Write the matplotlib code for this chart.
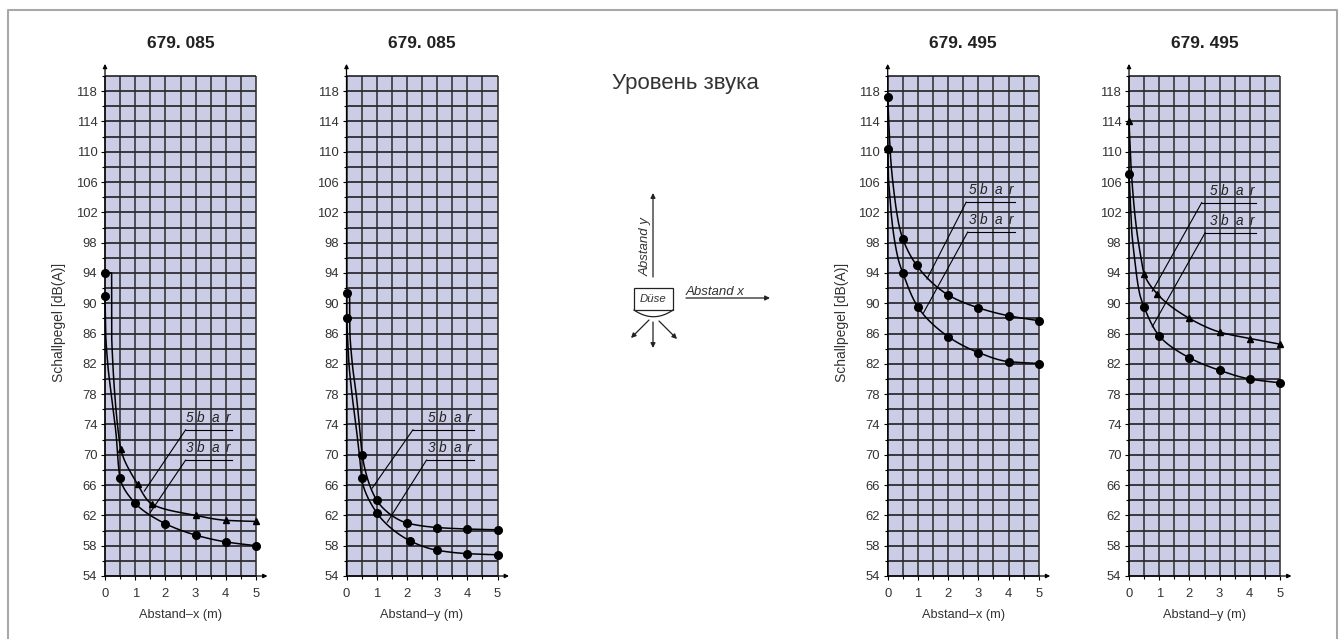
import numpy as np
import matplotlib.pyplot as plt
from matplotlib.patches import Rectangle

plt.rcParams['font.family'] = ['Liberation Sans', 'DejaVu Sans']

# ---- data ----
# panel 1: 679. 085, Abstand-x
p1_5bar_x = [0, 0.52, 1.08, 1.55, 3, 4, 5]
p1_5bar_y = [94.0, 70.8, 66.1, 63.5, 62.0, 61.35, 61.2]
p1_5bar_tx = [0.22, 0.22, 0.26, 0.33, 0.44]          # traced steep part of the curve
p1_5bar_ty = [94.0, 86.3, 82.0, 77.6, 73.0]
p1_3bar_x = [0, 0.5, 1, 2, 3, 4, 5]
p1_3bar_y = [90.9, 66.9, 63.6, 60.9, 59.4, 58.5, 58.0]
p1_3bar_tx = [0.02, 0.09, 0.22, 0.36]
p1_3bar_ty = [86.3, 82.0, 77.6, 73.0]

# panel 2: 679. 085, Abstand-y
p2_5bar_x = [0, 0.52, 1, 2, 3, 4, 5]
p2_5bar_y = [91.3, 70.0, 64.0, 61.0, 60.4, 60.2, 60.1]
p2_5bar_tx = [0.1, 0.11, 0.19, 0.33, 0.44]
p2_5bar_ty = [91.2, 86.5, 82.1, 77.7, 73.3]
p2_3bar_x = [0, 0.5, 1, 2.1, 3, 4, 5]
p2_3bar_y = [88.1, 66.9, 62.35, 58.65, 57.4, 56.95, 56.8]
p2_3bar_tx = [0.02, 0.08, 0.19, 0.33, 0.46]
p2_3bar_ty = [86.5, 82.1, 77.7, 73.3, 68.7]

# panel 3: 679. 495, Abstand-x
p3_5bar_x = [0, 0.5, 0.96, 2, 3, 4, 5]
p3_5bar_y = [117.2, 98.5, 95.0, 91.1, 89.4, 88.35, 87.7]
p3_5bar_tx = [0.04, 0.1, 0.21, 0.38]
p3_5bar_ty = [113.4, 109.0, 104.6, 100.2]
p3_3bar_x = [0, 0.5, 1, 2, 3, 4, 5]
p3_3bar_y = [110.4, 94.0, 89.5, 85.6, 83.5, 82.3, 82.05]
p3_3bar_tx = [0.02, 0.06, 0.16, 0.35]
p3_3bar_ty = [107.0, 104.6, 100.2, 95.8]

# panel 4: 679. 495, Abstand-y
p4_5bar_x = [0, 0.5, 0.93, 2, 3, 4, 5]
p4_5bar_y = [114.0, 93.9, 91.25, 88.0, 86.2, 85.35, 84.6]
p4_5bar_tx = [0.055, 0.13, 0.24, 0.41]
p4_5bar_ty = [108.9, 104.5, 100.1, 95.7]
p4_3bar_x = [0, 0.5, 1, 2, 3, 4, 5]
p4_3bar_y = [107.1, 89.5, 85.7, 82.8, 81.15, 80.0, 79.5]
p4_3bar_tx = [0.03, 0.08, 0.19, 0.35]
p4_3bar_ty = [104.5, 100.1, 95.7, 91.3]

# label leader lines: (line y, line x start, target x, target y)
p1_lead = [(73.3, 2.67, 1.3, 65.2), (69.3, 2.67, 1.5, 62.4)]
p2_lead = [(73.3, 2.2, 0.85, 65.6), (69.3, 2.65, 1.35, 61.1)]
p3_lead = [(103.35, 2.6, 1.3, 93.2), (99.4, 2.65, 1.18, 88.7)]
p4_lead = [(103.3, 2.41, 0.77, 91.6), (99.3, 2.52, 0.77, 86.9)]

titles = ['679. 085', '679. 085', '679. 495', '679. 495']
xlabels = ['Abstand\u2013x (m)', 'Abstand\u2013y (m)', 'Abstand\u2013x (m)', 'Abstand\u2013y (m)']
bar_letters = [['5', 'b', 'a', 'r'], ['3', 'b', 'a', 'r']]
letter_x = [2.8, 3.17, 3.66, 4.07]
y_ticks = list(range(54, 119, 4))
x_ticks = [0, 1, 2, 3, 4, 5]


def pchip(t, v, tn):
    t = np.asarray(t, float)
    v = np.asarray(v, float)
    h = np.diff(t)
    d = np.diff(v) / h
    m = np.zeros(len(t))
    m[0], m[-1] = d[0], d[-1]
    for k in range(1, len(t) - 1):
        if d[k - 1] * d[k] > 0:
            w1 = 2 * h[k] + h[k - 1]
            w2 = h[k] + 2 * h[k - 1]
            m[k] = (w1 + w2) / (w1 / d[k - 1] + w2 / d[k])
    i = np.clip(np.searchsorted(t, tn) - 1, 0, len(t) - 2)
    s = (tn - t[i]) / h[i]
    h00 = 2 * s**3 - 3 * s**2 + 1
    h10 = s**3 - 2 * s**2 + s
    h01 = -2 * s**3 + 3 * s**2
    h11 = s**3 - s**2
    return h00 * v[i] + h10 * h[i] * m[i] + h01 * v[i + 1] + h11 * h[i] * m[i + 1]


def smooth(xs, ys):
    xs = np.asarray(xs, float)
    ys = np.asarray(ys, float)
    seg = np.hypot(np.diff(xs) * 30.2, np.diff(ys) * 7.57)
    t = np.concatenate([[0], np.cumsum(seg)])
    tn = np.linspace(0, t[-1], 600)
    return pchip(t, xs, tn), pchip(t, ys, tn)


W, H = 1341, 639
fig = plt.figure(figsize=(W / 100, H / 100), dpi=100)

bg = fig.add_axes([0, 0, 1, 1], zorder=-5)
bg.set_xlim(0, W)
bg.set_ylim(H, 0)
bg.axis('off')

panel_left = [105, 346.5, 887.7, 1129]
top_px, bottom_px, width_px = 76, 576, 151

curves = [
    [(p1_5bar_x, p1_5bar_y, p1_5bar_tx, p1_5bar_ty, ['o'] + ['^'] * 6),
     (p1_3bar_x, p1_3bar_y, p1_3bar_tx, p1_3bar_ty, ['o'] * 7)],
    [(p2_5bar_x, p2_5bar_y, p2_5bar_tx, p2_5bar_ty, ['o'] * 7),
     (p2_3bar_x, p2_3bar_y, p2_3bar_tx, p2_3bar_ty, ['o'] * 7)],
    [(p3_5bar_x, p3_5bar_y, p3_5bar_tx, p3_5bar_ty, ['o'] * 7),
     (p3_3bar_x, p3_3bar_y, p3_3bar_tx, p3_3bar_ty, ['o'] * 7)],
    [(p4_5bar_x, p4_5bar_y, p4_5bar_tx, p4_5bar_ty, ['^'] * 7),
     (p4_3bar_x, p4_3bar_y, p4_3bar_tx, p4_3bar_ty, ['o'] * 7)],
]
leads = [p1_lead, p2_lead, p3_lead, p4_lead]

for n in range(4):
    ax = fig.add_axes([panel_left[n] / W, 1 - bottom_px / H,
                       width_px / W, (bottom_px - top_px) / H])
    ax.set_xlim(0, 5)
    ax.set_ylim(54, 120)
    ax.set_facecolor('#cbcce6')
    for sp in ax.spines.values():
        sp.set_visible(False)

    # grid
    ax.hlines(np.arange(54, 121, 2), 0, 5, color='#111111', lw=1.1, zorder=1, clip_on=False)
    ax.vlines(np.arange(0, 5.01, 0.5), 54, 120, color='#2a2a2a', lw=1.1, zorder=1, clip_on=False)

    # axes arrows
    arr = dict(arrowstyle='-|>', lw=0.9, color='black', mutation_scale=6, shrinkA=0, shrinkB=0)
    ax.annotate('', xy=(0, 121.6), xytext=(0, 54), arrowprops=arr, annotation_clip=False, zorder=3)
    ax.annotate('', xy=(5.38, 54), xytext=(0, 54), arrowprops=arr, annotation_clip=False, zorder=3)

    ax.set_yticks(y_ticks)
    ax.set_yticks(np.arange(54, 121, 2), minor=True)
    ax.set_xticks(x_ticks)
    ax.set_xticks(np.arange(0, 5.01, 0.5), minor=True)
    ax.tick_params(which='major', length=3, width=0.8, color='black', labelsize=9.4,
                   labelcolor='#333333', pad=2.5)
    ax.tick_params(which='minor', length=2.5, width=0.8, color='black')
    ax.tick_params(axis='x', which='major', pad=5.5)

    # curves
    for cx, cy, tx, ty, mk in curves[n]:
        px = [cx[0]] + tx + cx[1:]
        py = [cy[0]] + ty + cy[1:]
        sx, sy = smooth(px, py)
        ax.plot(sx, sy, color='black', lw=1.1, zorder=4, clip_on=False)
        for xv, yv, m in zip(cx, cy, mk):
            ax.plot(xv, yv, marker=m, color='black',
                    markersize=5.5 if m == 'o' else 4.5, zorder=5, clip_on=False)

    # bar labels
    for (ly, lx0, gx, gy), letters in zip(leads[n], bar_letters):
        ax.plot([lx0, 4.22], [ly, ly], color='black', lw=0.8, zorder=4)
        ax.plot([gx, lx0], [gy, ly], color='black', lw=0.8, zorder=4)
        for lx, ch in zip(letter_x, letters):
            ax.text(lx, ly + 1.55, ch, fontsize=9.8, style='italic', color='#222222',
                    ha='center', va='center', zorder=4)

    ax.text(0.5, -0.078, xlabels[n], transform=ax.transAxes, ha='center', va='center',
            fontsize=9.2, color='#333333')
    if n in (0, 2):
        ax.text(-0.305, 0.508, 'Schallpegel [dB(A)]', transform=ax.transAxes, rotation=90,
                ha='center', va='center', fontsize=10, color='#333333')

    fig.text((panel_left[n] + width_px / 2) / W, 1 - 43 / H, titles[n], ha='center',
             va='center', fontsize=12.5, fontweight='bold', color='#222222')

# centre text and nozzle sketch
bg.text(685, 83, 'Уровень звука', ha='center', va='center', fontsize=16, color='#333333')
sk = dict(arrowstyle='-|>', lw=0.9, color='#222222', mutation_scale=7, shrinkA=0, shrinkB=0)
bg.annotate('', xy=(653, 193), xytext=(653, 277), arrowprops=sk)
bg.text(646, 247, 'Abstand y', rotation=90, style='italic', ha='center', va='center',
        fontsize=9.5, color='#333333')
bg.add_patch(Rectangle((634, 288), 39, 22, fill=False, lw=0.9, edgecolor='#222222'))
bg.text(653.5, 299, 'Düse', style='italic', ha='center', va='center', fontsize=8.2,
        color='#333333')
ax_x = np.linspace(634, 673, 30)
bg.plot(ax_x, 310 + 6.7 * (1 - ((ax_x - 653.5) / 19.5) ** 2), color='#222222', lw=0.9)
bg.annotate('', xy=(631, 338), xytext=(649, 320), arrowprops=sk)
bg.annotate('', xy=(653, 348), xytext=(653, 322), arrowprops=sk)
bg.annotate('', xy=(677, 339), xytext=(659, 321), arrowprops=sk)
bg.text(686, 292, 'Abstand x', style='italic', ha='left', va='center', fontsize=9.5,
        color='#333333')
bg.annotate('', xy=(770, 298), xytext=(686, 298), arrowprops=sk)

# outer frame
bg.plot([8.5, 8.5, 1337, 1337], [639, 10, 10, 639], color='#a8a8a8', lw=1.5)

fig.savefig('out.png', dpi=100)
